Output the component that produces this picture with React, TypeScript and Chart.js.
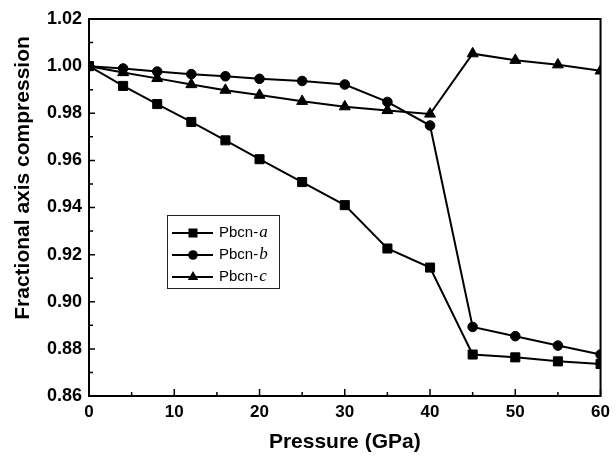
import React, { useEffect, useRef } from "react";
import { Chart, registerables } from "chart.js";

Chart.register(...registerables);

const pressures = [0, 4, 8, 12, 16, 20, 25, 30, 35, 40, 45, 50, 55, 60];
const seriesA = [1.0, 0.9916, 0.9839, 0.9763, 0.9685, 0.9605, 0.9508, 0.941, 0.9226, 0.9145, 0.8776, 0.8764, 0.8747, 0.8736];
const seriesB = [1.0, 0.999, 0.9977, 0.9966, 0.9957, 0.9946, 0.9937, 0.9922, 0.9848, 0.9748, 0.8893, 0.8854, 0.8814, 0.8776];
const seriesC = [1.0, 0.9973, 0.9948, 0.9922, 0.9898, 0.9877, 0.9851, 0.9828, 0.9812, 0.9797, 1.0053, 1.0025, 1.0006, 0.998];
const seriesNames = ["Pbcn-", "Pbcn-", "Pbcn-"];
const seriesItalic = ["a", "b", "c"];
const xTicks = { min: 0, max: 60, major: 10, minor: 5 };
const yTicks = { min: 0.86, max: 1.02, major: 0.02, minor: 0.01 };
const xTitle = "Pressure (GPa)";
const yTitle = "Fractional axis compression";

const styles = ["rect", "circle", "triangle"] as const;

function drawMarker(ctx: CanvasRenderingContext2D, style: string, x: number, y: number) {
  ctx.beginPath();
  if (style === "rect") {
    ctx.rect(x - 4.5, y - 4.5, 9, 9);
  } else if (style === "circle") {
    ctx.arc(x, y, 4.8, 0, Math.PI * 2);
  } else {
    const r = 6;
    ctx.moveTo(x, y - r);
    ctx.lineTo(x + r * 0.866, y + r * 0.5);
    ctx.lineTo(x - r * 0.866, y + r * 0.5);
    ctx.closePath();
  }
  ctx.fill();
}

const framePlugin = {
  id: "framePlugin",
  afterDraw(chart: any) {
    const { ctx, chartArea } = chart;
    const xs = chart.scales.x;
    const ys = chart.scales.y;
    const { left, right, top, bottom } = chartArea;
    ctx.save();
    ctx.strokeStyle = "#000";
    ctx.fillStyle = "#000";
    ctx.lineWidth = 2;
    ctx.strokeRect(left, top, right - left, bottom - top);
    ctx.lineWidth = 1.5;
    ctx.beginPath();
    for (let v = xTicks.min; v <= xTicks.max + 1e-9; v += xTicks.minor) {
      const px = xs.getPixelForValue(v);
      const isMajor = Math.abs(v / xTicks.major - Math.round(v / xTicks.major)) < 1e-6;
      const len = isMajor ? 7 : 4;
      ctx.moveTo(px, bottom);
      ctx.lineTo(px, bottom - len);
    }
    for (let i = 0; ; i++) {
      const v = yTicks.min + i * yTicks.minor;
      if (v > yTicks.max + 1e-9) break;
      const py = ys.getPixelForValue(v);
      const isMajor = i % 2 === 0;
      const len = isMajor ? 6 : 4;
      ctx.moveTo(left, py);
      ctx.lineTo(left + len, py);
    }
    ctx.stroke();

    ctx.font = "bold 21px 'Liberation Sans', Arial, sans-serif";
    ctx.textAlign = "center";
    ctx.textBaseline = "alphabetic";
    ctx.fillText(xTitle, (left + right) / 2, 448);
    ctx.save();
    ctx.translate(29, 178);
    ctx.rotate(-Math.PI / 2);
    ctx.fillText(yTitle, 0, 0);
    ctx.restore();

    ctx.lineWidth = 1;
    ctx.strokeStyle = "#222";
    ctx.strokeRect(167.5, 215.5, 112, 73);
    const rows = [233, 255, 277];
    chart.data.datasets.forEach((ds: any, i: number) => {
      const y = rows[i];
      ctx.strokeStyle = "#000";
      ctx.lineWidth = 2;
      ctx.beginPath();
      ctx.moveTo(172, y);
      ctx.lineTo(213, y);
      ctx.stroke();
      drawMarker(ctx, styles[i], 193, y);
      ctx.textAlign = "left";
      ctx.textBaseline = "middle";
      ctx.font = "15px 'Liberation Sans', Arial, sans-serif";
      ctx.fillText(seriesNames[i], 219, y);
      const w = ctx.measureText(seriesNames[i]).width;
      ctx.font = "italic 17px 'Liberation Serif', 'Times New Roman', serif";
      ctx.fillText(seriesItalic[i], 219 + w + 1, y);
    });
    ctx.restore();
  },
};

export default function App() {
  const canvasRef = useRef<HTMLCanvasElement | null>(null);
  useEffect(() => {
    const canvas = canvasRef.current;
    if (!canvas) return;
    const mk = (vals: number[], i: number) => ({
      label: seriesNames[i] + seriesItalic[i],
      data: pressures.map((p, k) => ({ x: p, y: vals[k] })),
      borderColor: "#000",
      backgroundColor: "#000",
      borderWidth: 2,
      pointStyle: styles[i],
      pointRadius: i === 0 ? 6.4 : i === 1 ? 4.8 : 6.3,
      pointBorderWidth: 1,
      pointBorderColor: "#000",
      pointBackgroundColor: "#000",
      tension: 0,
    });
    const chart = new Chart(canvas, {
      type: "line",
      data: {
        datasets: [mk(seriesA, 0), mk(seriesB, 1), mk(seriesC, 2)],
      },
      options: {
        animation: false,
        responsive: true,
        maintainAspectRatio: false,
        layout: { padding: { left: 0, top: 19, right: 14, bottom: 0 } },
        plugins: { legend: { display: false }, tooltip: { enabled: false } },
        scales: {
          x: {
            type: "linear",
            min: xTicks.min,
            max: xTicks.max,
            grid: { display: false, drawTicks: false },
            border: { display: false },
            ticks: {
              stepSize: xTicks.major,
              padding: 6,
              color: "#000",
              font: { family: "'Liberation Sans', Arial, sans-serif", size: 17, weight: "bold" },
              maxRotation: 0,
            },
            afterFit: (s: any) => {
              s.height = 63;
            },
          },
          y: {
            type: "linear",
            min: yTicks.min,
            max: yTicks.max,
            grid: { display: false, drawTicks: false },
            border: { display: false },
            ticks: {
              stepSize: yTicks.major,
              padding: 7,
              color: "#000",
              font: { family: "'Liberation Sans', Arial, sans-serif", size: 18, weight: "bold" },
              callback: (v: any) => Number(v).toFixed(2),
            },
            afterFit: (s: any) => {
              s.width = 89;
            },
          },
        },
      },
      plugins: [framePlugin],
    });
    return () => chart.destroy();
  }, []);
  return (
    <div style={{ position: "absolute", left: 0, top: 0, width: 616, height: 459, background: "#fff" }}>
      <canvas ref={canvasRef} />
    </div>
  );
}
